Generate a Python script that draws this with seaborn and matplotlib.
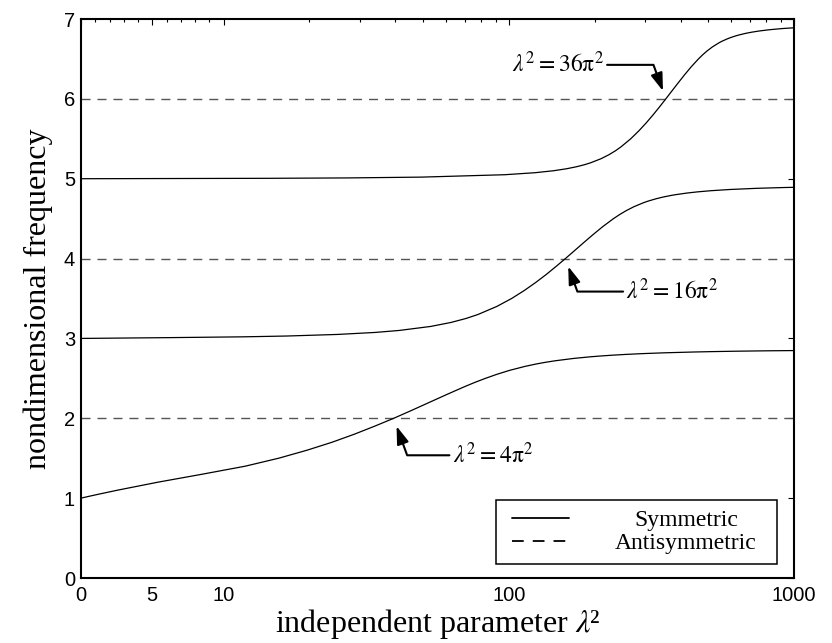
import matplotlib
matplotlib.use("Agg")
import matplotlib.pyplot as plt
import pandas as pd
import seaborn as sns
from matplotlib.lines import Line2D
from matplotlib.legend_handler import HandlerLine2D
from matplotlib.ticker import FixedLocator, FixedFormatter, NullFormatter

# Symmetric in-plane modes: independent parameter lambda^2 vs nondimensional frequency
sym1_lambda2 = [0, 0.49, 1.25, 2.57, 5.40, 8.51, 11.9, 15.6, 19.6, 24.0, 28.7, 33.8,
                39.5, 45.7, 52.7, 60.8, 65.4, 70.4, 76.1, 82.8, 90.7, 100.6, 114.0,
                124.8, 133.9, 145.3, 169.2, 193.3, 209.6, 230.4, 257.7, 295.2, 351.7,
                445.1, 517.6, 626, 805.7, 1000]
sym1_freq = [1.0, 1.02, 1.05, 1.1, 1.2, 1.3, 1.4, 1.5, 1.6, 1.7, 1.8, 1.9,
             2.0, 2.1, 2.2, 2.3, 2.35, 2.4, 2.45, 2.5, 2.55, 2.6, 2.65,
             2.68, 2.7, 2.72, 2.75, 2.77, 2.78, 2.79, 2.8, 2.81, 2.82,
             2.83, 2.835, 2.84, 2.845, 2.848]

sym2_lambda2 = [0, 6.18, 11.7, 16.6, 25.1, 34.0, 41.3, 53.2, 62.7, 70.8, 78.0, 90.7,
                102.3, 113.3, 124.2, 135.2, 146.3, 157.9, 170.1, 183.1, 197.4, 213.5,
                232.8, 244.4, 258.0, 274.8, 297.0, 308.2, 329.2, 347.2, 370.1, 384.2,
                420.3, 458.2, 512.2, 595.6, 743.4, 929.4, 1000]
sym2_freq = [3.0, 3.01, 3.02, 3.03, 3.05, 3.075, 3.1, 3.15, 3.2, 3.25, 3.3, 3.4,
             3.5, 3.6, 3.7, 3.8, 3.9, 4.0, 4.1, 4.2, 4.3, 4.4,
             4.5, 4.55, 4.6, 4.65, 4.7, 4.72, 4.75, 4.77, 4.79, 4.8,
             4.82, 4.835, 4.85, 4.865, 4.88, 4.89, 4.892]

sym3_lambda2 = [0, 14.4, 27.3, 49.4, 96.7, 123.4, 143.6, 159.6, 172.8, 184.1, 193.8,
                210.4, 224.3, 236.6, 247.6, 267.6, 285.9, 303.4, 320.6, 337.8, 355.3,
                373.4, 392.5, 413.0, 435.8, 462.3, 477.8, 495.7, 517.3, 544.6, 558.0,
                582.3, 602.2, 626.6, 641.1, 676.3, 710.7, 755.6, 817.1, 907.2, 1000]
sym3_freq = [5.0, 5.005, 5.01, 5.02, 5.05, 5.075, 5.1, 5.125, 5.15, 5.175, 5.2,
             5.25, 5.3, 5.35, 5.4, 5.5, 5.6, 5.7, 5.8, 5.9, 6.0,
             6.1, 6.2, 6.3, 6.4, 6.5, 6.55, 6.6, 6.65, 6.7, 6.72,
             6.75, 6.77, 6.79, 6.8, 6.82, 6.835, 6.85, 6.865, 6.88, 6.89]

# Antisymmetric modes are independent of lambda^2
anti_freq = [2, 4, 6]
lambda2_range = [0, 1000]

# Crossover points and their labels
cross_lambda2 = [39.48, 157.91, 355.31]
cross_freq = [2, 4, 6]
cross_labels = [r"$\lambda^2 = 4\mathrm{\pi}^2$",
                r"$\lambda^2 = 16\mathrm{\pi}^2$",
                r"$\lambda^2 = 36\mathrm{\pi}^2$"]

# Axis ticks
xtick_major = [0, 5, 10, 100, 1000]
xtick_labels = ["0", "5", "10", "100", "1000"]
xtick_minor = [1, 2, 3, 4, 6, 7, 8, 9, 20, 30, 40, 50, 60, 70, 80, 90,
               200, 300, 400, 500, 600, 700, 800, 900]
ytick_major = [0, 1, 2, 3, 4, 5, 6, 7]

legend_labels = ["Symmetric", "Antisymmetric"]

sns.set_style("white")
plt.rcParams.update({
    "axes.edgecolor": "black",
    "axes.linewidth": 1.5,
    "xtick.color": "black",
    "ytick.color": "black",
    "text.color": "black",
    "axes.labelcolor": "black",
    "mathtext.fontset": "stix",
})
plt.rcParams["font.family"] = ["Liberation Sans", "DejaVu Sans"]

serif = ["Liberation Serif", "DejaVu Serif"]

sym_df = pd.concat([
    pd.DataFrame({"lambda2": xs, "freq": ys, "mode": i})
    for i, (xs, ys) in enumerate([(sym1_lambda2, sym1_freq),
                                  (sym2_lambda2, sym2_freq),
                                  (sym3_lambda2, sym3_freq)])
], ignore_index=True)

anti_df = pd.concat([
    pd.DataFrame({"lambda2": lambda2_range, "freq": [f, f], "mode": i})
    for i, f in enumerate(anti_freq)
], ignore_index=True)

fig = plt.figure(figsize=(8.32, 6.43), dpi=100)
ax = fig.add_axes([81 / 832, 65 / 643, 713 / 832, 559 / 643])

ax.set_xscale("symlog", linthresh=10, linscale=0.45)

dash = (0, (6.5, 5))
sns.lineplot(data=anti_df, x="lambda2", y="freq", units="mode", estimator=None,
             color="#555555", lw=1.0, linestyle=dash, ax=ax, legend=False)
sns.lineplot(data=sym_df, x="lambda2", y="freq", units="mode", estimator=None,
             color="black", lw=0.9, ax=ax, legend=False)

ax.set_xlim(0, 1000)
ax.set_ylim(0, 7)

ax.xaxis.set_major_locator(FixedLocator(xtick_major))
ax.xaxis.set_major_formatter(FixedFormatter(xtick_labels))
ax.xaxis.set_minor_locator(FixedLocator(xtick_minor))
ax.xaxis.set_minor_formatter(NullFormatter())
ax.yaxis.set_major_locator(FixedLocator(ytick_major))
ax.yaxis.set_minor_locator(FixedLocator([]))

ax.tick_params(which="both", direction="in", top=True, right=True,
               labelsize=14.5, width=0.8)
ax.tick_params(which="major", length=4.5)
ax.tick_params(which="minor", length=2.3)
ax.tick_params(axis="x", pad=6)
ax.tick_params(axis="y", pad=4.3)

ax.set_xlabel("independent parameter $\\lambda$²", fontsize=23, family=serif, labelpad=1)
ax.set_ylabel("nondimensional frequency", fontsize=23, family=serif, labelpad=8)

# Crossover annotations: (text offset in pixels, alignment)
placements = [((59, -37), "left"), ((61, -33), "left"), ((-62, 34), "right")]
for lam2, f, lab, (off, ha) in zip(cross_lambda2, cross_freq, cross_labels, placements):
    ax.annotate(
        lab, xy=(lam2, f), xytext=off, textcoords="offset pixels",
        ha=ha, va="center", fontsize=17, family=serif,
        arrowprops=dict(
            arrowstyle="-|>,head_length=0.6,head_width=0.2",
            mutation_scale=18,
            connectionstyle="angle,angleA=0,angleB=110,rad=0",
            color="black", lw=1.5, shrinkA=0, shrinkB=6,
            relpos=(0, 0.5) if ha == "left" else (1, 0.5),
        ),
    )

handles = [Line2D([], [], color="black", lw=1.3),
           Line2D([], [], color="black", lw=1.3, linestyle=dash)]
leg = ax.legend(handles, legend_labels, loc="lower right",
                bbox_to_anchor=(0.976, 0.025), borderaxespad=0,
                prop={"family": serif, "size": 17},
                handler_map={Line2D: HandlerLine2D(xpad=0.27)},
                fancybox=False, shadow=False, framealpha=1,
                edgecolor="black", handlelength=2.67, handletextpad=2.4,
                labelspacing=0.05, borderpad=0.42)
leg.get_frame().set_linewidth(1.1)

# Centre the legend entries within the text column
fig.canvas.draw()
renderer = fig.canvas.get_renderer()
texts = leg.get_texts()
widths = [t.get_window_extent(renderer).width for t in texts]
wmax = max(widths)
for t, w in zip(texts, widths):
    t.set_x((wmax - w) / 2 - 10)

fig.savefig("out.png", dpi=100, facecolor="white")
